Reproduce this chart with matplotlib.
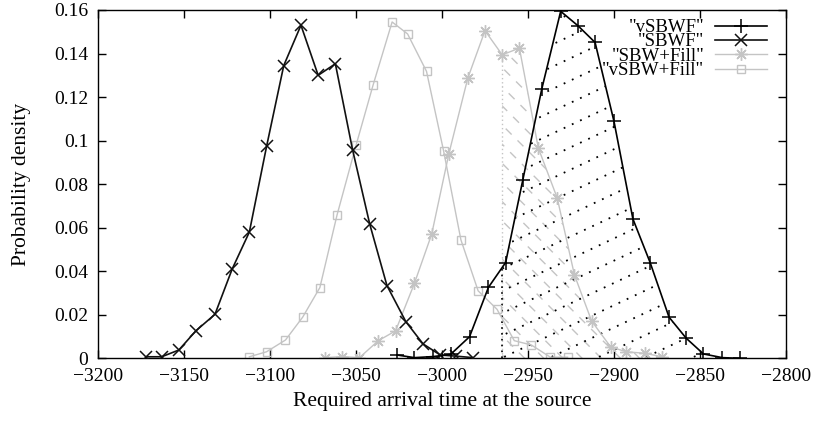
import numpy as np
import matplotlib
matplotlib.use('Agg')
import matplotlib.pyplot as plt
from matplotlib.patches import Polygon

plt.rcParams['font.family'] = ['Liberation Serif', 'DejaVu Serif']

# deadline used for the shaded area
CUTOFF = -2965

vsbwf_x = [-3026, -3016, -3005, -2995, -2984, -2973, -2963, -2953, -2942, -2931,
           -2921, -2911, -2900, -2889, -2879, -2868, -2858, -2848, -2837, -2827]
vsbwf_y = [0.0015, 0.0003, 0.0008, 0.0018, 0.0099, 0.0326, 0.044, 0.082, 0.1237, 0.1594,
           0.1528, 0.1451, 0.1088, 0.064, 0.044, 0.0189, 0.0092, 0.002, 0.0003, 0.0]

sbwf_x = [-3172, -3163, -3153, -3143, -3132, -3122, -3112, -3102, -3092, -3082,
          -3072, -3062, -3052, -3042, -3032, -3021, -3011, -3001, -2992, -2982]
sbwf_y = [0.0007, 0.0007, 0.0038, 0.0127, 0.0202, 0.041, 0.058, 0.0973, 0.1345, 0.153,
          0.130, 0.1353, 0.0958, 0.0616, 0.0334, 0.0168, 0.0066, 0.0015, 0.001, 0.0003]

sbwfill_x = [-3068, -3058, -3048, -3037, -3027, -3016, -3006, -2996, -2985, -2975,
             -2965, -2955, -2944, -2933, -2923, -2913, -2902, -2893, -2882, -2872]
sbwfill_y = [0.0003, 0.0008, 0.0003, 0.0081, 0.0126, 0.0345, 0.057, 0.094, 0.1287, 0.1505,
             0.1394, 0.1425, 0.0966, 0.0736, 0.0383, 0.0171, 0.0053, 0.003, 0.0023, 0.0007]

vsbwfill_x = [-3112, -3102, -3091, -3081, -3071, -3061, -3050, -3040, -3029, -3020,
              -3009, -2999, -2989, -2979, -2968, -2958, -2948, -2937, -2927]
vsbwfill_y = [0.0007, 0.003, 0.0084, 0.0189, 0.0325, 0.0659, 0.0978, 0.1257, 0.1545, 0.149,
              0.1318, 0.095, 0.0544, 0.031, 0.0225, 0.0081, 0.0061, 0.0005, 0.0005]

x_ticks = [-3200, -3150, -3100, -3050, -3000, -2950, -2900, -2850, -2800]
y_ticks = [0, 0.02, 0.04, 0.06, 0.08, 0.1, 0.12, 0.14, 0.16]

LIGHT = '#c4c4c4'


def hatch_region(ax, xs, ys, cut, slope, step, **kw):
    xs = np.asarray(xs, float)
    ys = np.asarray(ys, float)
    keep = xs >= cut
    px = np.concatenate([[cut], xs[keep], [xs[keep][-1], cut]])
    py = np.concatenate([[np.interp(cut, xs, ys)], ys[keep], [0, 0]])
    poly = Polygon(np.column_stack([px, py]), closed=True, fill=False,
                   edgecolor='none', transform=ax.transData)
    ax.add_patch(poly)
    for b in np.arange(-4, 4, step):
        ln, = ax.plot([0, 1], [b, b + slope], transform=ax.transAxes, zorder=1, **kw)
        ln.set_clip_path(poly)
    return np.interp(cut, xs, ys)


fig = plt.figure(figsize=(8.15, 4.25), dpi=100)
ax = fig.add_axes([98 / 815, 1 - 358.3 / 425, 688 / 815, 348.3 / 425])

aspect = 688 / 348.3
# grey dashed hatch under "SBW+Fill", black dotted hatch under "vSBWF"
top_g = hatch_region(ax, sbwfill_x, sbwfill_y, CUTOFF, -1.0 * aspect, 0.055,
                     color=LIGHT, lw=1.0, linestyle=(0, (6, 6)))
top_k = hatch_region(ax, vsbwf_x, vsbwf_y, CUTOFF, 0.47 * aspect, 0.064,
                     color='black', lw=1.3, linestyle=(0, (1, 4)))
ax.vlines(CUTOFF, 0, top_g, colors=LIGHT, linestyles=(0, (1, 2)), lw=1, zorder=1)
ax.vlines(CUTOFF, 0, top_k, colors='black', linestyles=(0, (1, 2.5)), lw=1.2, zorder=1)

ax.plot(vsbwfill_x, vsbwfill_y, color=LIGHT, lw=1.0, marker='s', ms=6,
        mfc='none', mec=LIGHT, mew=1.0, label='"vSBW+Fill"', zorder=2)
ax.plot(sbwfill_x, sbwfill_y, color=LIGHT, lw=1.0, marker=(8, 2, 0), ms=9,
        mec=LIGHT, mew=1.0, label='"SBW+Fill"', zorder=2)
ax.plot(sbwf_x, sbwf_y, color='#111111', lw=1.2, marker='x', ms=9,
        mew=1.1, label='"SBWF"', zorder=3)
ax.plot(vsbwf_x, vsbwf_y, color='black', lw=1.2, marker='+', ms=9.5,
        mew=1.1, label='"vSBWF"', zorder=4)

ax.set_xlim(-3200, -2800)
ax.set_ylim(0, 0.16)
ax.set_xticks(x_ticks)
ax.set_yticks(y_ticks)
ax.set_yticklabels(['0', '0.02', '0.04', '0.06', '0.08', '0.1', '0.12', '0.14', '0.16'])
ax.tick_params(direction='in', length=6, width=1, top=True, right=True,
               labelsize=14, pad=7)
for s in ax.spines.values():
    s.set_linewidth(1.0)

ax.set_xlabel('Required arrival time at the source', fontsize=15.5, labelpad=5)
ax.set_ylabel('Probability density', fontsize=15.5)
ax.yaxis.set_label_coords(-0.097, 0.5)

handles, labels = ax.get_legend_handles_labels()
leg = ax.legend(handles[::-1], labels[::-1], loc='upper right', frameon=False,
                markerfirst=False, fontsize=13.5, handlelength=2.75, handletextpad=0.6,
                labelspacing=-0.15, borderpad=0, borderaxespad=0,
                bbox_to_anchor=(767 / 815, (425 - 19) / 425),
                bbox_transform=fig.transFigure)

fig.savefig('out.png', dpi=100)
